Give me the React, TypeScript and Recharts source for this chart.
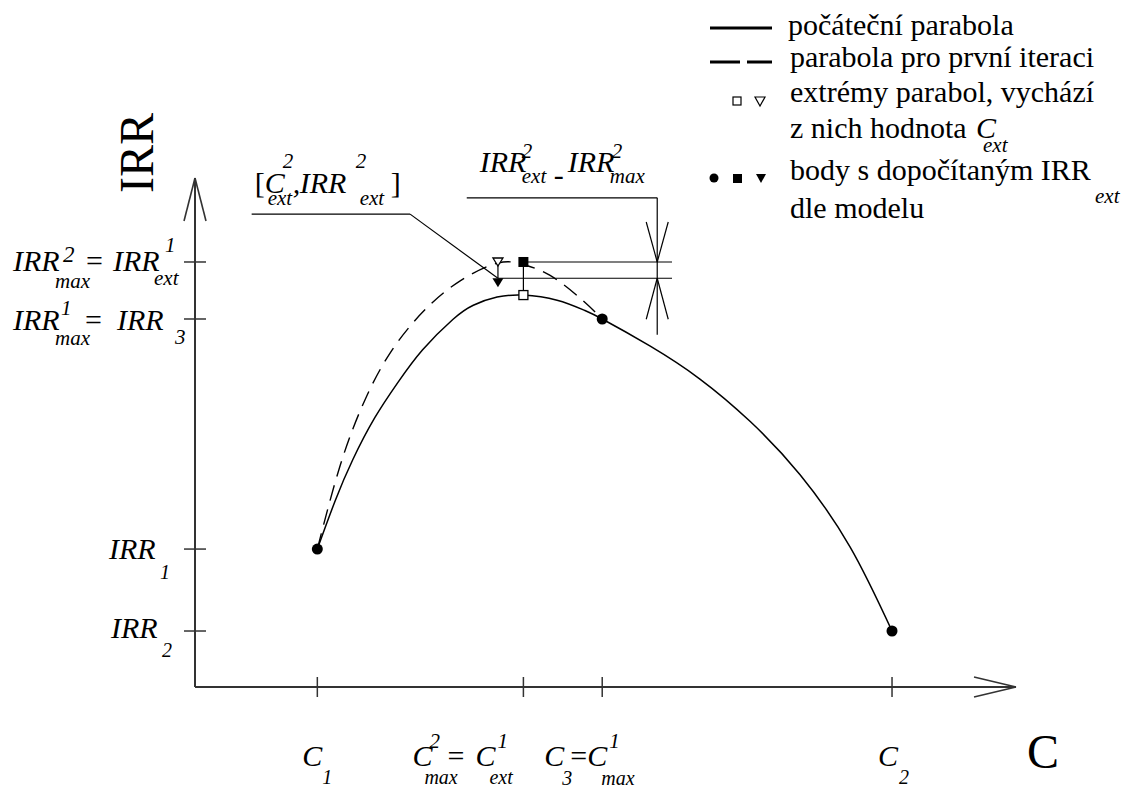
import * as React from "react";
import {
    ComposedChart,
    Line,
    Scatter,
    XAxis,
    YAxis,
    ReferenceLine,
    ReferenceDot,
} from "recharts";

/* ---------- values (C on x, IRR on y, arbitrary units 0..10) ---------- */
const C1 = 1.49;
const C_EXT1 = 4.0; // C^2_max = C^1_ext
const C3 = 4.96; // C_3 = C^1_max
const C2 = 8.49;
const C_EXT2 = 3.69;

const IRR1 = 2.71;
const IRR2 = 1.1;
const IRR3 = 7.23; // IRR^1_max = IRR_3
const IRR_MAX2 = 8.35; // IRR^2_max = IRR^1_ext
const IRR_TOP1 = 7.7; // vertex of the initial parabola
const IRR_EXT2 = 8.03;

const cTicks = [C1, C_EXT1, C3, C2];
const irrTicks = [IRR2, IRR1, IRR3, IRR_MAX2];

// initial parabola (solid)
const solidC = [1.49, 1.71, 1.92, 2.19, 2.47, 2.77, 3.14, 3.39, 3.68, 4.0, 4.41, 4.73, 4.96, 5.54, 6.15, 6.76, 7.37, 7.98, 8.49];
const solidIrr = [2.71, 3.67, 4.46, 5.29, 5.98, 6.62, 7.22, 7.5, 7.66, 7.7, 7.6, 7.41, 7.23, 6.7, 6.05, 5.22, 4.17, 2.75, 1.1];

// parabola for the first iteration (dashed)
const dashedC = [1.49, 1.77, 2.07, 2.4, 2.8, 3.23, 3.69, 4.0, 4.32, 4.69, 4.96];
const dashedIrr = [2.71, 4.36, 5.64, 6.62, 7.41, 7.98, 8.33, 8.3, 8.09, 7.64, 7.23];

const zip = (cs: number[], irrs: number[]) => cs.map((c, i) => ({ c, irr: irrs[i] }));
const solidData = zip(solidC, solidIrr);
const dashedData = zip(dashedC, dashedIrr);

const pointsModel = zip([C1, C3, C2], [IRR1, IRR3, IRR2]);
const squareModel = zip([C_EXT1], [IRR_MAX2]);
const triangleModel = zip([C_EXT2], [IRR_EXT2]);
const squareVertex = zip([C_EXT1], [IRR_TOP1]);
const triangleVertex = zip([C_EXT2], [IRR_MAX2]);

/* ---------- annotation geometry (data units) ---------- */
const DIM_X = 5.63;
const DIM_END = 5.81;
const DIM_TOP = 9.61;
const DIM_BOTTOM = 6.92;
const DIM_LEAD_X = 3.31;
const LEAD_Y = 9.29;
const LEAD_START = 0.69;
const LEAD_KNEE = 2.62;

const FONT = "'Liberation Serif', 'Times New Roman', serif";
const INK = "#000";

type Run = [string, number, number, number?, boolean?];

function Runs({ x, y, runs }: { x: number; y: number; runs: Run[] }) {
    return (
        <g>
            {runs.map(([t, dx, dy, size = 30, italic = true], i) => (
                <text
                    key={i}
                    x={x + dx}
                    y={y + dy}
                    fontSize={size}
                    fontStyle={italic ? "italic" : "normal"}
                    fontFamily={FONT}
                    fill={INK}
                >
                    {t}
                </text>
            ))}
        </g>
    );
}

const xLabels: Record<string, Run[]> = {
    [C1]: [["C", -15, 79], ["1", 5, 97, 20]],
    [C_EXT1]: [
        ["C", -111, 79],
        ["2", -94, 61, 21],
        ["max", -99, 97, 20],
        ["=", -76, 79, 30, false],
        ["C", -48, 79],
        ["1", -26, 61, 21],
        ["ext", -34, 97, 20],
    ],
    [C3]: [
        ["C", -58, 79],
        ["3", -40, 98, 20],
        ["=", -32, 79, 30, false],
        ["C", -15, 79],
        ["1", 7, 61, 21],
        ["max", -1, 98, 20],
    ],
    [C2]: [["C", -14, 79], ["2", 7, 97, 20]],
};

const yLabels: Record<string, Run[]> = {
    [IRR2]: [["IRR", -84, 7], ["2", -33, 26, 20]],
    [IRR1]: [["IRR", -86, 10], ["1", -35, 30, 20]],
    [IRR3]: [
        ["IRR", -182, 11],
        ["1", -134, -4, 21],
        ["max", -140, 26, 21],
        ["=", -110, 11, 30, false],
        ["IRR", -78, 11],
        ["3", -20, 25, 21],
    ],
    [IRR_MAX2]: [
        ["IRR", -182, 9],
        ["2", -132, 0, 23],
        ["max", -140, 26, 21],
        ["=", -109, 9, 30, false],
        ["IRR", -82, 9],
        ["1", -30, -10, 21],
        ["ext", -41, 23, 21],
    ],
};

function XTick(props: any) {
    const { x, y, payload } = props;
    return (
        <g>
            <line x1={x} y1={y - 10} x2={x} y2={y + 10} stroke="#333" strokeWidth={1.5} />
            <Runs x={x} y={y} runs={xLabels[String(payload.value)] || []} />
        </g>
    );
}

function YTick(props: any) {
    const { x, y, payload } = props;
    return (
        <g>
            <line x1={x - 11} y1={y} x2={x + 11} y2={y} stroke="#333" strokeWidth={1.5} />
            <Runs x={x} y={y} runs={yLabels[String(payload.value)] || []} />
        </g>
    );
}

/* ---------- marker shapes ---------- */
const Dot = (p: any) => <circle cx={p.cx} cy={p.cy} r={5.5} fill={INK} />;
const FilledSquare = (p: any) => <rect x={p.cx - 5} y={p.cy - 5} width={10} height={10} fill={INK} />;
const OpenSquare = (p: any) => (
    <rect x={p.cx - 4.5} y={p.cy - 4.5} width={9} height={9} fill="#fff" stroke={INK} strokeWidth={1.3} />
);
const FilledTriangle = (p: any) => (
    <polygon points={`${p.cx - 5.5},${p.cy} ${p.cx + 5.5},${p.cy} ${p.cx},${p.cy + 9}`} fill={INK} />
);
const OpenTriangle = (p: any) => (
    <polygon
        points={`${p.cx - 5},${p.cy - 4} ${p.cx + 5},${p.cy - 4} ${p.cx},${p.cy + 4}`}
        fill="#fff"
        stroke={INK}
        strokeWidth={1.3}
    />
);

/* ---------- arrows ---------- */
const ArrowRight = (p: any) => (
    <g stroke="#333" strokeWidth={1.6} fill="none">
        <line x1={p.cx} y1={p.cy} x2={p.cx - 42} y2={p.cy - 10} />
        <line x1={p.cx} y1={p.cy} x2={p.cx - 42} y2={p.cy + 10} />
    </g>
);
const ArrowUp = (p: any) => (
    <g stroke="#333" strokeWidth={1.6} fill="none">
        <line x1={p.cx} y1={p.cy} x2={p.cx - 11} y2={p.cy + 43} />
        <line x1={p.cx} y1={p.cy} x2={p.cx + 11} y2={p.cy + 43} />
    </g>
);
const DimArrowDown = (p: any) => (
    <g stroke={INK} strokeWidth={1.2}>
        <line x1={p.cx} y1={p.cy} x2={p.cx - 11} y2={p.cy - 40} />
        <line x1={p.cx} y1={p.cy} x2={p.cx + 11} y2={p.cy - 40} />
    </g>
);
const DimArrowUp = (p: any) => (
    <g stroke={INK} strokeWidth={1.2}>
        <line x1={p.cx} y1={p.cy} x2={p.cx - 11} y2={p.cy + 41} />
        <line x1={p.cx} y1={p.cy} x2={p.cx + 11} y2={p.cy + 41} />
    </g>
);

/* ---------- annotation texts ---------- */
const PointLabel = (p: any) => (
    <Runs
        x={p.cx}
        y={p.cy}
        runs={[
            ["[", 3, -21, 30, false],
            ["C", 13, -21],
            ["2", 31, -46, 21],
            ["ext", 16, -9, 21],
            [",", 41, -21],
            ["IRR", 48, -21],
            ["2", 104, -46, 21],
            ["ext", 108, -9, 21],
            ["]", 139, -21, 30, false],
        ]}
    />
);
const DiffLabel = (p: any) => (
    <Runs
        x={p.cx}
        y={p.cy}
        runs={[
            ["IRR", 13, -26],
            ["2", 55, -40, 21],
            ["ext", 55, -15, 21],
            ["-", 87, -13],
            ["IRR", 101, -26],
            ["2", 145, -40, 21],
            ["max", 143, -15, 21],
        ]}
    />
);

const seg = (x1: number, y1: number, x2: number, y2: number, key: string) => (
    <ReferenceLine
        key={key}
        segment={[{ x: x1, y: y1 }, { x: x2, y: y2 }]}
        stroke={INK}
        strokeWidth={1.2}
        ifOverflow="visible"
    />
);

function LegendBox() {
    const t = { fontFamily: FONT, fontSize: 30, fill: INK } as const;
    return (
        <svg width={1124} height={785} style={{ position: "absolute", left: 0, top: 0, pointerEvents: "none" }}>
            <line x1={710} y1={28} x2={772} y2={28} stroke={INK} strokeWidth={3} />
            <text x={788} y={35} {...t}>počáteční parabola</text>
            <line x1={710} y1={62} x2={772} y2={62} stroke={INK} strokeWidth={3} strokeDasharray="30 7" />
            <text x={790} y={67} {...t}>parabola pro první iteraci</text>
            <rect x={733} y={97} width={8} height={8} fill="#fff" stroke={INK} strokeWidth={1.2} />
            <polygon points="755,97 765,97 760,106" fill="#fff" stroke={INK} strokeWidth={1.2} />
            <text x={790} y={102} {...t}>extrémy parabol, vychází</text>
            <text x={790} y={138} {...t}>z nich hodnota</text>
            <text x={976} y={138} {...t} fontStyle="italic">C</text>
            <text x={983} y={152} {...t} fontSize={21} fontStyle="italic">ext</text>
            <circle cx={714} cy={178} r={4.5} fill={INK} />
            <rect x={733} y={174} width={9} height={9} fill={INK} />
            <polygon points="756,174 766,174 761,183" fill={INK} />
            <text x={790} y={180} {...t}>body s dopočítaným IRR</text>
            <text x={1095} y={203} {...t} fontSize={21} fontStyle="italic">ext</text>
            <text x={790} y={218} {...t}>dle modelu</text>
            {/* axis titles */}
            <text x={153} y={153} {...t} fontSize={48} textAnchor="middle" transform="rotate(-90 153 153)">IRR</text>
            <text x={1027} y={768} {...t} fontSize={48}>C</text>
        </svg>
    );
}

export default function App() {
    return (
        <div style={{ position: "relative", width: 1124, height: 785, background: "#fff" }}>
            <style>{"body{margin:0}"}</style>
            <ComposedChart width={1124} height={785} margin={{ top: 178, right: 108, bottom: 68, left: 135 }}>
                <XAxis
                    type="number"
                    dataKey="c"
                    domain={[0, 10]}
                    ticks={cTicks}
                    interval={0}
                    height={30}
                    tickSize={0}
                    tickMargin={0}
                    tickLine={false}
                    axisLine={{ stroke: "#333", strokeWidth: 2 }}
                    tick={(p: any) => <XTick {...p} />}
                />
                <YAxis
                    type="number"
                    dataKey="irr"
                    domain={[0, 10]}
                    ticks={irrTicks}
                    interval={0}
                    width={60}
                    tickSize={0}
                    tickMargin={0}
                    tickLine={false}
                    axisLine={{ stroke: "#333", strokeWidth: 2 }}
                    tick={(p: any) => <YTick {...p} />}
                />
                <ReferenceDot x={10} y={0} r={0} ifOverflow="visible" shape={ArrowRight} />
                <ReferenceDot x={0} y={10} r={0} ifOverflow="visible" shape={ArrowUp} />

                {/* connectors between extremes and model points */}
                {seg(C_EXT1, IRR_MAX2, C_EXT1, IRR_TOP1, "sq")}
                {seg(C_EXT2, IRR_MAX2, C_EXT2, IRR_EXT2, "tr")}
                {/* dimension of IRR^2_ext - IRR^2_max */}
                {seg(C_EXT1, IRR_MAX2, DIM_END, IRR_MAX2, "h1")}
                {seg(C_EXT2, IRR_EXT2, DIM_END, IRR_EXT2, "h2")}
                {seg(DIM_X, DIM_TOP, DIM_X, DIM_BOTTOM, "dv")}
                {seg(DIM_LEAD_X, DIM_TOP, DIM_X, DIM_TOP, "dh")}
                <ReferenceDot x={DIM_X} y={IRR_MAX2} r={0} ifOverflow="visible" shape={DimArrowDown} />
                <ReferenceDot x={DIM_X} y={IRR_EXT2} r={0} ifOverflow="visible" shape={DimArrowUp} />
                <ReferenceDot x={DIM_LEAD_X} y={DIM_TOP} r={0} ifOverflow="visible" shape={DiffLabel} />
                {/* leader to [C^2_ext, IRR^2_ext] */}
                {seg(LEAD_START, LEAD_Y, LEAD_KNEE, LEAD_Y, "l1")}
                {seg(LEAD_KNEE, LEAD_Y, C_EXT2, IRR_EXT2, "l2")}
                <ReferenceDot x={LEAD_START} y={LEAD_Y} r={0} ifOverflow="visible" shape={PointLabel} />

                <Line
                    data={dashedData}
                    dataKey="irr"
                    type="natural"
                    stroke={INK}
                    strokeWidth={1.4}
                    strokeDasharray="16 9"
                    dot={false}
                    activeDot={false}
                    isAnimationActive={false}
                />
                <Line
                    data={solidData}
                    dataKey="irr"
                    type="natural"
                    stroke={INK}
                    strokeWidth={1.5}
                    dot={false}
                    activeDot={false}
                    isAnimationActive={false}
                />
                <Scatter data={squareVertex} dataKey="irr" shape={OpenSquare} isAnimationActive={false} />
                <Scatter data={triangleVertex} dataKey="irr" shape={OpenTriangle} isAnimationActive={false} />
                <Scatter data={pointsModel} dataKey="irr" shape={Dot} isAnimationActive={false} />
                <Scatter data={squareModel} dataKey="irr" shape={FilledSquare} isAnimationActive={false} />
                <Scatter data={triangleModel} dataKey="irr" shape={FilledTriangle} isAnimationActive={false} />
            </ComposedChart>
            <LegendBox />
        </div>
    );
}
